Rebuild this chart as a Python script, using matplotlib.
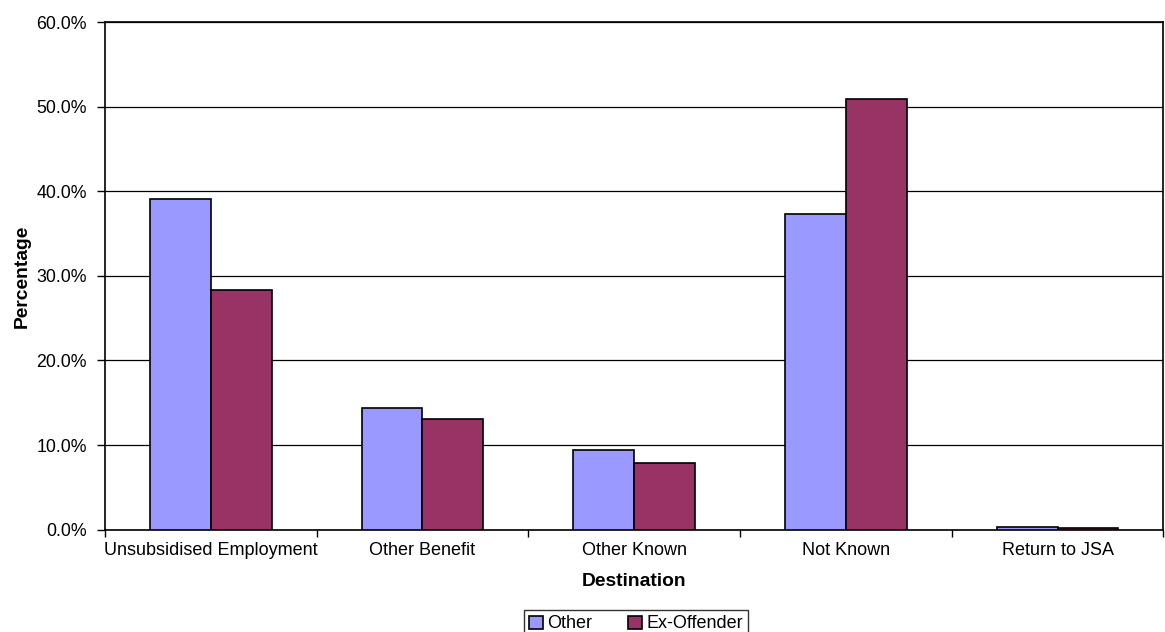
import numpy as np
import matplotlib
matplotlib.use("Agg")
import matplotlib.pyplot as plt
from matplotlib.ticker import FuncFormatter, FixedLocator

plt.rcParams['font.family'] = ['Liberation Sans', 'DejaVu Sans']

destinations = ["Unsubsidised Employment", "Other Benefit", "Other Known",
                "Not Known", "Return to JSA"]
other = [39.1, 14.4, 9.4, 37.3, 0.3]
ex_offender = [28.3, 13.1, 7.9, 50.9, 0.2]

fig = plt.figure(figsize=(11.65, 6.32), dpi=100)
ax = fig.add_axes([0.0901, 0.162, 0.9085, 0.803])

x = np.arange(len(destinations))
w = 0.288
ax.bar(x - w/2, other, w, color="#9999FF", edgecolor="black", lw=1.2,
       label="Other", zorder=3)
ax.bar(x + w/2, ex_offender, w, color="#993366", edgecolor="black", lw=1.2,
       label="Ex-Offender", zorder=3)

ax.set_xlim(-0.5, len(destinations) - 0.5)
ax.set_ylim(0, 60)
ax.set_yticks(np.arange(0, 61, 10))
ax.yaxis.set_major_formatter(FuncFormatter(lambda v, p: f"{v:.1f}%"))
ax.yaxis.grid(True, color="black", lw=0.9, zorder=0)
ax.set_axisbelow(True)

ax.set_xticks(x)
ax.set_xticklabels(destinations, fontsize=13)
ax.tick_params(axis="x", length=0, pad=9)
ax.xaxis.set_minor_locator(FixedLocator(np.arange(-0.5, len(destinations), 1.0)))
ax.tick_params(axis="x", which="minor", length=5, width=1, color="black")
ax.tick_params(axis="y", labelsize=12.8, length=6, width=1, color="black", pad=7)

for s in ax.spines.values():
    s.set_linewidth(1.2)
    s.set_color("black")

ax.set_xlabel("Destination", fontsize=13.9, fontweight="bold", labelpad=10)
ax.set_ylabel("Percentage", fontsize=13.9, fontweight="bold", labelpad=4)

leg = fig.legend(loc="upper center", bbox_to_anchor=(636 / 1165, 1 - 610 / 632),
                 ncol=2, fontsize=13, frameon=True, fancybox=False,
                 edgecolor="black", handlelength=0.75, handleheight=0.75,
                 handletextpad=0.25, columnspacing=2.0, borderpad=0.3,
                 borderaxespad=0)
leg.get_frame().set_linewidth(1.0)

fig.savefig("out.png", dpi=100)
